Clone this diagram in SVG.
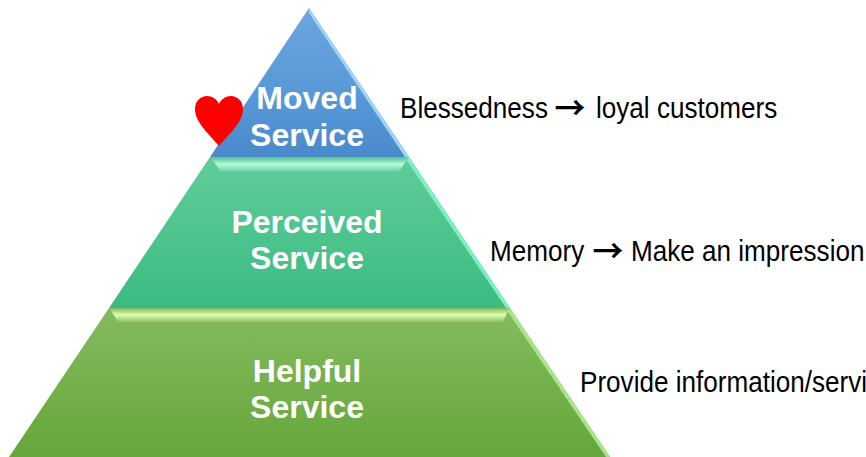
<svg xmlns="http://www.w3.org/2000/svg" width="866" height="457" viewBox="0 0 866 457">
<style>
.t{font-family:"Liberation Sans",Arial,sans-serif;font-weight:700;font-size:32px;fill:#fff;text-anchor:middle}
.d{font-family:"Liberation Sans",Arial,sans-serif;font-size:29px;fill:#000}
.a{font-family:"Noto Sans CJK SC","DejaVu Sans",sans-serif;font-size:31px;font-weight:700;fill:#000;text-anchor:middle}
</style>
<defs>
<linearGradient id="b" x1="0" y1="0" x2="0" y2="1"><stop offset="0" stop-color="#6ca6de"/><stop offset=".6" stop-color="#5798d8"/><stop offset="1" stop-color="#4a8acb"/></linearGradient>
<linearGradient id="g" x1="0" y1="0" x2="0" y2="1"><stop offset="0" stop-color="#60cd99"/><stop offset="1" stop-color="#3bbb83"/></linearGradient>
<linearGradient id="l" x1="0" y1="0" x2="0" y2="1"><stop offset="0" stop-color="#84bb5f"/><stop offset="1" stop-color="#66a63a"/></linearGradient>
<linearGradient id="gb" x1="0" y1="0" x2="0" y2="1"><stop offset="0" stop-color="#58c795"/><stop offset=".45" stop-color="#b4fbdc"/><stop offset="1" stop-color="#62d0a0"/></linearGradient>
<linearGradient id="lb" x1="0" y1="0" x2="0" y2="1"><stop offset="0" stop-color="#8dc066"/><stop offset=".45" stop-color="#dcffae"/><stop offset="1" stop-color="#8cc266"/></linearGradient>
</defs>
<g id="tier-moved">
<polygon points="309,8 210,157 409,157" fill="url(#b)"/>
<polygon points="309,8 409,157 405,157 309,13" fill="#9ed4f7"/>
<text class="t" x="307" y="109">Moved</text>
<text class="t" x="307" y="146">Service</text>
</g>
<g id="tier-perceived">
<polygon points="210,157 409,157 510,308 109,308" fill="url(#g)"/>
<polygon points="409,157 510,308 506,308 405,158" fill="#7eeec4"/>
<polygon points="211,158 408,158 399,172 221,172" fill="url(#gb)"/>
<text class="t" x="307" y="233">Perceived</text>
<text class="t" x="307" y="269">Service</text>
</g>
<g id="tier-helpful">
<polygon points="109,308 510,308 610,457 9,457" fill="url(#l)"/>
<polygon points="510,308 610,457 606,457 506,309" fill="#a5e688"/>
<polygon points="110,309 509,309 503,322 118,322" fill="url(#lb)"/>
<text class="t" x="307" y="382">Helpful</text>
<text class="t" x="307" y="418">Service</text>
</g>
<g id="heart">
<path d="M219,146 C208,133 195,122 195,109 C195,101 201,96 207,96 C212,96 217,99 219,104 C221,99 226,96 231,96 C237,96 243,101 243,109 C243,122 230,133 219,146 Z" fill="#f00"/>
</g>
<g id="labels">
<text class="d" transform="translate(400 118) scale(.9 1)">Blessedness</text>
<text class="a" x="570" y="119">→</text>
<text class="d" transform="translate(596 118) scale(.9 1)">loyal customers</text>
<text class="d" transform="translate(490 261) scale(.9 1)">Memory</text>
<text class="a" x="608" y="262">→</text>
<text class="d" transform="translate(631 261) scale(.9 1)">Make an impression</text>
<text class="d" transform="translate(580 392) scale(.9 1)">Provide information/servi</text>
</g>
</svg>
